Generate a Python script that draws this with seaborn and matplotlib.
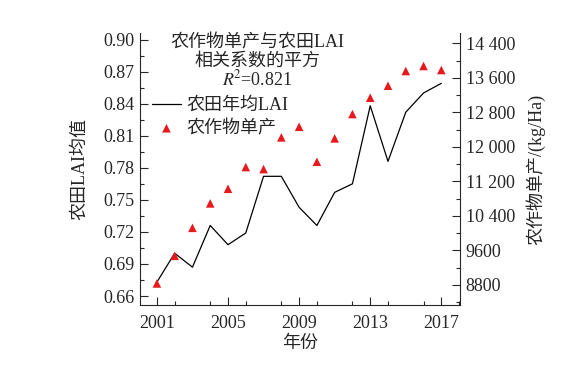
import matplotlib
matplotlib.use('Agg')
import matplotlib.pyplot as plt
from matplotlib.ticker import MultipleLocator, FixedLocator, FixedFormatter
import seaborn as sns
import pandas as pd

# Data
years = list(range(2001, 2018))
lai = [0.673, 0.700, 0.687, 0.726, 0.708, 0.719, 0.772, 0.772, 0.743,
       0.726, 0.757, 0.765, 0.838, 0.786, 0.832, 0.850, 0.859]
crop_yield = [8835, 9475, 10124, 10690, 11029, 11532, 11485, 12220, 12466,
              11655, 12197, 12761, 13139, 13417, 13758, 13874, 13781]

year_ticks = [2001, 2005, 2009, 2013, 2017]
lai_ticks = [0.66, 0.69, 0.72, 0.75, 0.78, 0.81, 0.84, 0.87, 0.90]
yield_ticks = [8800, 9600, 10400, 11200, 12000, 12800, 13600, 14400]
yield_tick_labels = ['8800', '9600', '10 400', '11 200', '12 000',
                     '12 800', '13 600', '14 400']
title_lines = ['农作物单产与农田LAI', '相关系数的平方', r'$R^{\!2}$=0.821']

df = pd.DataFrame({'year': years, 'lai': lai, 'yield': crop_yield})

# Style
sns.set_style('ticks')
plt.rcParams['font.family'] = ['Liberation Serif', 'Noto Sans CJK SC']
plt.rcParams['mathtext.fontset'] = 'stix'
plt.rcParams['font.size'] = 13
plt.rcParams['axes.linewidth'] = 0.8

fig = plt.figure(figsize=(5.88, 3.70), dpi=100)
ax = fig.add_axes([140 / 588, 65 / 370, 320 / 588, 272 / 370])
ax2 = ax.twinx()

# Left axis: LAI line
sns.lineplot(data=df, x='year', y='lai', ax=ax, color='black', linewidth=0.9,
             label='农田年均LAI', legend=False)
# Right axis: crop yield triangles
sns.scatterplot(data=df, x='year', y='yield', ax=ax2, marker='^', s=38,
                color='#e8191c', edgecolor='none', label='农作物单产', legend=False)

ax.set_xlim(2000.05, 2018.05)
ax.set_ylim(0.6516, 0.9061)
ax2.set_ylim(8336, 14639)

ax.xaxis.set_major_locator(FixedLocator(year_ticks))
ax.xaxis.set_minor_locator(MultipleLocator(2))
ax.yaxis.set_major_locator(FixedLocator(lai_ticks))
ax.yaxis.set_major_formatter(FixedFormatter([f'{v:.2f}' for v in lai_ticks]))
ax.yaxis.set_minor_locator(MultipleLocator(0.015))
ax2.yaxis.set_major_locator(FixedLocator(yield_ticks))
ax2.yaxis.set_major_formatter(FixedFormatter(yield_tick_labels))
ax2.yaxis.set_minor_locator(MultipleLocator(400))

for a in (ax, ax2):
    a.tick_params(which='major', direction='in', length=6, width=0.8, labelsize=13, pad=4)
    a.tick_params(which='minor', direction='in', length=3, width=0.8)
    a.spines['top'].set_visible(False)
ax.tick_params(axis='x', which='major', pad=7)
ax.spines['right'].set_visible(False)
ax2.spines['left'].set_visible(False)
ax2.spines['bottom'].set_visible(False)

ax.set_xlabel('年份', fontsize=13, labelpad=2)
ax.set_ylabel('农田LAI均值', fontsize=13, labelpad=11)
ax2.set_ylabel('农作物单产/(kg/Ha)', fontsize=13, labelpad=8)

# Correlation text above the legend
for i, line in enumerate(title_lines):
    fig.text(257 / 588, 1 - (43 + 18 * i) / 370, line, ha='center', va='center',
             fontsize=13)

# Legend combining both axes
h1, l1 = ax.get_legend_handles_labels()
h2, l2 = ax2.get_legend_handles_labels()
leg = ax2.legend(h1 + h2, l1 + l2, loc='upper left',
                 bbox_to_anchor=(152 / 588, 1 - 97 / 370),
                 bbox_transform=fig.transFigure, frameon=False,
                 fontsize=13, handlelength=1.6, handletextpad=0.3,
                 labelspacing=0.32, borderpad=0, borderaxespad=0)

fig.savefig('out.png', dpi=100)
